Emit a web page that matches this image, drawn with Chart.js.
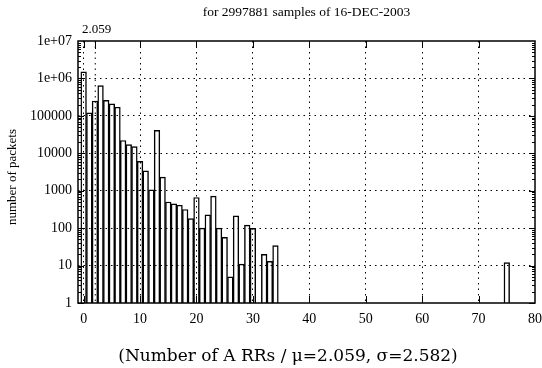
<!DOCTYPE html>
<html><head><meta charset="utf-8">
<script src="https://cdn.jsdelivr.net/npm/chart.js@4/dist/chart.umd.min.js"></script>
<style>html,body{margin:0;padding:0;background:#fff;}#wrap{width:542px;height:368px;}</style>
</head><body><div id="wrap"><canvas id="c" width="542" height="368"></canvas></div>
<script>
// ---- data ----
const rrCounts = [0,1,2,3,4,5,6,7,8,9,10,11,12,13,14,15,16,17,18,19,20,21,22,23,24,25,26,27,28,29,30,31,32,33,34,75];
const packetCounts = [1500000,120000,250000,640000,260000,210000,170000,22000,17000,15000,6100,3400,1050,41000,2300,500,445,410,315,180,660,100,228,715,100,57,5,212,11,120,99,null,20,13,34,12];
const yTickValues = [1,10,100,1000,10000,100000,1000000,10000000];
const yTickLabels = ['1','10','100','1000','10000','100000','1e+06','1e+07'];
const xTickValues = [0,10,20,30,40,50,60,70,80];
const xTickLabels = ['0','10','20','30','40','50','60','70','80'];
const meanValue = 2.059;
const meanLabel = '2.059';
const titleText = 'for 2997881 samples of 16-DEC-2003';
const xTitleText = '(Number of A RRs / \u03bc=2.059, \u03c3=2.582)';
const yTitleText = 'number of packets';

const serif = "'Liberation Serif', 'Times New Roman', serif";
const DOT = [1.5, 4];

const points = rrCounts.map((x, i) => ({x: x, y: packetCounts[i]})).filter(p => p.y !== null);

const framePlugin = {
  id: 'frame',
  beforeDatasetsDraw(chart) {
    const {ctx, chartArea: a, scales: {x}} = chart;
    const pm = x.getPixelForValue(meanValue);
    ctx.save();
    ctx.strokeStyle = '#000';
    ctx.lineWidth = 1;
    ctx.setLineDash(DOT);
    ctx.beginPath();
    ctx.moveTo(pm, a.top); ctx.lineTo(pm, a.bottom);
    ctx.stroke();
    ctx.restore();
  },
  afterDraw(chart) {
    const {ctx, chartArea: a, scales: {x, y}} = chart;
    ctx.save();
    ctx.strokeStyle = '#000';
    ctx.lineWidth = 1.5;
    ctx.strokeRect(a.left, a.top, a.right - a.left, a.bottom - a.top);
    ctx.lineWidth = 1;
    ctx.beginPath();
    for (let d = 0; d < 7; d++) {
      for (let m = 1; m <= 9; m++) {
        const v = Math.pow(10, d) * m;
        const py = Math.round(y.getPixelForValue(v)) + 0.5;
        const len = m === 1 ? 6 : 3;
        ctx.moveTo(a.left, py); ctx.lineTo(a.left + len, py);
        ctx.moveTo(a.right, py); ctx.lineTo(a.right - len, py);
      }
    }
    xTickValues.forEach(v => {
      if (v <= x.min || v >= x.max) return;
      const px = Math.round(x.getPixelForValue(v)) + 0.5;
      ctx.moveTo(px, a.top); ctx.lineTo(px, a.top + 7);
      ctx.moveTo(px, a.bottom); ctx.lineTo(px, a.bottom - 7);
    });
    const pm = Math.round(x.getPixelForValue(meanValue)) + 0.5;
    ctx.moveTo(pm, a.top); ctx.lineTo(pm, a.top + 8);
    ctx.stroke();

    ctx.fillStyle = '#000';
    ctx.textAlign = 'center';
    ctx.textBaseline = 'middle';
    ctx.font = '13.5px ' + serif;
    ctx.fillText(titleText, (a.left + a.right) / 2, 12);
    ctx.font = '13px ' + serif;
    ctx.fillText(meanLabel, pm + 1, 30);

    ctx.save();
    ctx.translate(13, 177);
    ctx.rotate(-Math.PI / 2);
    ctx.fillText(yTitleText, 0, 0);
    ctx.restore();

    ctx.font = "14px 'DejaVu Serif', serif";
    const w0 = ctx.measureText(xTitleText).width;
    const size = Math.min(17, 14 * 370 / w0);
    ctx.font = size.toFixed(2) + "px 'DejaVu Serif', serif";
    ctx.fillText(xTitleText, 288, 357);
    ctx.restore();
  }
};

new Chart(document.getElementById('c'), {
  type: 'bar',
  data: {
    datasets: [{
      data: points,
      backgroundColor: 'rgba(0,0,0,0)',
      borderColor: '#000',
      borderWidth: 0.8,
      barPercentage: 1,
      categoryPercentage: 1
    }]
  },
  options: {
    responsive: false,
    devicePixelRatio: 1,
    animation: false,
    layout: {padding: {top: 41, right: 0, left: 0, bottom: 0}},
    plugins: {legend: {display: false}, tooltip: {enabled: false}, title: {display: false}},
    scales: {
      x: {
        type: 'linear', min: -1, max: 80, offset: false,
        afterBuildTicks: s => { s.ticks = xTickValues.map(v => ({value: v})); },
        afterFit: s => { s.height = 65; s.paddingRight = 7; },
        ticks: {
          font: {family: serif, size: 14}, color: '#000', padding: 8, maxRotation: 0, autoSkip: false,
          callback: (v) => { const i = xTickValues.indexOf(v); return i >= 0 ? xTickLabels[i] : ''; }
        },
        grid: {
          offset: false, drawTicks: false, lineWidth: 1,
          color: c => (c.tick && c.tick.value >= 0 && c.tick.value < 80) ? '#000' : 'rgba(0,0,0,0)'
        },
        border: {display: false, dash: DOT}
      },
      y: {
        type: 'logarithmic', min: 1, max: 10000000,
        afterBuildTicks: s => { s.ticks = yTickValues.map(v => ({value: v})); },
        afterFit: s => { s.width = 78; },
        ticks: {
          font: {family: serif, size: 14}, color: '#000', padding: 6, autoSkip: false,
          callback: (v) => { const i = yTickValues.indexOf(v); return i >= 0 ? yTickLabels[i] : ''; }
        },
        grid: {
          drawTicks: false, lineWidth: 1,
          color: c => (c.tick && c.tick.value > 1 && c.tick.value < 10000000) ? '#000' : 'rgba(0,0,0,0)'
        },
        border: {display: false, dash: DOT},
        title: {display: false}
      }
    }
  },
  plugins: [framePlugin]
});
</script></body></html>
